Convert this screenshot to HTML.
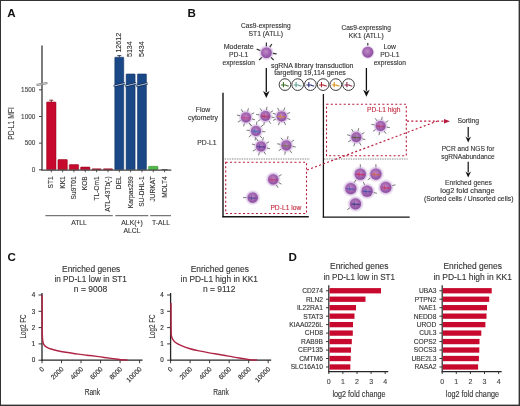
<!DOCTYPE html>
<html><head><meta charset="utf-8"><style>
html,body{margin:0;padding:0;background:#fff;}
svg{display:block;font-family:"Liberation Sans", sans-serif;will-change:transform;}

</style></head><body>
<svg width="520" height="406" viewBox="0 0 520 406">
<rect width="520" height="406" fill="#fff"/>
<text x="7.20" y="17.00" font-size="11.6" fill="#111" text-anchor="start" font-weight="bold">A</text>
<line x1="42.00" y1="45.50" x2="42.00" y2="170.30" stroke="#444" stroke-width="1.4" />
<line x1="39.00" y1="169.80" x2="42.00" y2="169.80" stroke="#444" stroke-width="1" />
<text x="35.30" y="172.10" font-size="6.4" fill="#444" text-anchor="end" stroke="#444" stroke-width="0.12">0</text>
<line x1="39.00" y1="143.15" x2="42.00" y2="143.15" stroke="#444" stroke-width="1" />
<text x="35.30" y="145.45" font-size="6.4" fill="#444" text-anchor="end" stroke="#444" stroke-width="0.12">500</text>
<line x1="39.00" y1="116.50" x2="42.00" y2="116.50" stroke="#444" stroke-width="1" />
<text x="35.30" y="118.80" font-size="6.4" fill="#444" text-anchor="end" stroke="#444" stroke-width="0.12">1000</text>
<line x1="39.00" y1="89.85" x2="42.00" y2="89.85" stroke="#444" stroke-width="1" />
<text x="35.30" y="92.15" font-size="6.4" fill="#444" text-anchor="end" stroke="#444" stroke-width="0.12">1500</text>
<text transform="translate(14.40,123.50) rotate(-90)" font-size="8.4" fill="#444" text-anchor="middle" stroke="#444" stroke-width="0.12" textLength="32.7" lengthAdjust="spacingAndGlyphs">PD-L1 MFI</text>
<rect x="46.60" y="102.00" width="9.40" height="67.80" fill="#c8092e" stroke="#8f0018" stroke-width="0.5" rx="0.6"/>
<line x1="51.30" y1="169.80" x2="51.30" y2="172.30" stroke="#444" stroke-width="0.9" />
<text transform="translate(53.20,176.30) rotate(-90)" font-size="6.6" fill="#333" text-anchor="end" stroke="#333" stroke-width="0.12">ST1</text>
<rect x="57.93" y="159.50" width="9.40" height="10.30" fill="#c8092e" stroke="#8f0018" stroke-width="0.5" rx="0.6"/>
<line x1="62.63" y1="169.80" x2="62.63" y2="172.30" stroke="#444" stroke-width="0.9" />
<text transform="translate(64.53,176.30) rotate(-90)" font-size="6.6" fill="#333" text-anchor="end" stroke="#333" stroke-width="0.12">KK1</text>
<rect x="69.26" y="164.60" width="9.40" height="5.20" fill="#c8092e" stroke="#8f0018" stroke-width="0.5" rx="0.6"/>
<line x1="73.96" y1="169.80" x2="73.96" y2="172.30" stroke="#444" stroke-width="0.9" />
<text transform="translate(75.86,176.30) rotate(-90)" font-size="6.6" fill="#333" text-anchor="end" stroke="#333" stroke-width="0.12">Su9T01</text>
<rect x="80.59" y="167.00" width="9.40" height="2.80" fill="#c8092e" stroke="#8f0018" stroke-width="0.5" rx="0.6"/>
<line x1="85.29" y1="169.80" x2="85.29" y2="172.30" stroke="#444" stroke-width="0.9" />
<text transform="translate(87.19,176.30) rotate(-90)" font-size="6.6" fill="#333" text-anchor="end" stroke="#333" stroke-width="0.12">KOB</text>
<rect x="91.92" y="168.80" width="9.40" height="1.00" fill="#c8092e" stroke="#8f0018" stroke-width="0.5" rx="0.6"/>
<line x1="96.62" y1="169.80" x2="96.62" y2="172.30" stroke="#444" stroke-width="0.9" />
<text transform="translate(98.52,176.30) rotate(-90)" font-size="6.6" fill="#333" text-anchor="end" stroke="#333" stroke-width="0.12">TL-Om1</text>
<rect x="103.25" y="168.80" width="9.40" height="1.00" fill="#c8092e" stroke="#8f0018" stroke-width="0.5" rx="0.6"/>
<line x1="107.95" y1="169.80" x2="107.95" y2="172.30" stroke="#444" stroke-width="0.9" />
<text transform="translate(109.85,176.30) rotate(-90)" font-size="6.6" fill="#333" text-anchor="end" stroke="#333" stroke-width="0.12">ATL-43Tb(-)</text>
<rect x="114.78" y="57.20" width="9.00" height="112.60" fill="#1a4785" stroke="#0f2f5e" stroke-width="0.5" rx="0.6"/>
<line x1="119.28" y1="169.80" x2="119.28" y2="172.30" stroke="#444" stroke-width="0.9" />
<text transform="translate(121.18,176.30) rotate(-90)" font-size="6.6" fill="#333" text-anchor="end" stroke="#333" stroke-width="0.12">DEL</text>
<rect x="126.11" y="73.90" width="9.00" height="95.90" fill="#1a4785" stroke="#0f2f5e" stroke-width="0.5" rx="0.6"/>
<line x1="130.61" y1="169.80" x2="130.61" y2="172.30" stroke="#444" stroke-width="0.9" />
<text transform="translate(132.51,176.30) rotate(-90)" font-size="6.6" fill="#333" text-anchor="end" stroke="#333" stroke-width="0.12">Karpas299</text>
<rect x="137.44" y="73.90" width="9.00" height="95.90" fill="#1a4785" stroke="#0f2f5e" stroke-width="0.5" rx="0.6"/>
<line x1="141.94" y1="169.80" x2="141.94" y2="172.30" stroke="#444" stroke-width="0.9" />
<text transform="translate(143.84,176.30) rotate(-90)" font-size="6.6" fill="#333" text-anchor="end" stroke="#333" stroke-width="0.12">SU-DHL-1</text>
<rect x="148.57" y="166.30" width="9.40" height="3.50" fill="#4fb848" stroke="#2e8a2a" stroke-width="0.5" rx="0.6"/>
<line x1="153.27" y1="169.80" x2="153.27" y2="172.30" stroke="#444" stroke-width="0.9" />
<text transform="translate(155.17,176.30) rotate(-90)" font-size="6.6" fill="#333" text-anchor="end" stroke="#333" stroke-width="0.12">JURKAT</text>
<rect x="161.60" y="169.00" width="6.00" height="0.80" fill="#444" />
<line x1="164.60" y1="169.80" x2="164.60" y2="172.30" stroke="#444" stroke-width="0.9" />
<text transform="translate(166.50,176.30) rotate(-90)" font-size="6.6" fill="#333" text-anchor="end" stroke="#333" stroke-width="0.12">MOLT4</text>
<line x1="41.30" y1="170.10" x2="171.30" y2="170.10" stroke="#444" stroke-width="1.3" />
<line x1="51.30" y1="100.20" x2="51.30" y2="102.00" stroke="#600" stroke-width="0.8" />
<line x1="49.30" y1="100.20" x2="53.30" y2="100.20" stroke="#600" stroke-width="0.8" />
<line x1="119.30" y1="55.60" x2="119.30" y2="57.40" stroke="#0a2040" stroke-width="0.8" />
<line x1="117.30" y1="55.60" x2="121.30" y2="55.60" stroke="#0a2040" stroke-width="0.8" />
<text transform="translate(120.90,52.60) rotate(-90)" font-size="7.0" fill="#333" text-anchor="start" stroke="#333" stroke-width="0.12" textLength="19.8" lengthAdjust="spacingAndGlyphs">12612</text>
<text transform="translate(131.90,57.00) rotate(-90)" font-size="7.0" fill="#333" text-anchor="start" stroke="#333" stroke-width="0.12" textLength="15.6" lengthAdjust="spacingAndGlyphs">5134</text>
<text transform="translate(143.70,57.00) rotate(-90)" font-size="7.0" fill="#333" text-anchor="start" stroke="#333" stroke-width="0.12" textLength="15.6" lengthAdjust="spacingAndGlyphs">5434</text>
<path d="M113.68,86.1 L124.88,83.4" stroke="#0b2850" stroke-width="2.3" fill="none"/>
<path d="M113.68,86.1 L124.88,83.4" stroke="#b8c8dc" stroke-width="1.0" fill="none"/>
<path d="M125.01,86.1 L136.21,83.4" stroke="#0b2850" stroke-width="2.3" fill="none"/>
<path d="M125.01,86.1 L136.21,83.4" stroke="#b8c8dc" stroke-width="1.0" fill="none"/>
<path d="M136.34,86.1 L147.54,83.4" stroke="#0b2850" stroke-width="2.3" fill="none"/>
<path d="M136.34,86.1 L147.54,83.4" stroke="#b8c8dc" stroke-width="1.0" fill="none"/>
<line x1="36.6" y1="85.0" x2="47.4" y2="83.0" stroke="#666" stroke-width="2.2"/>
<line x1="36.6" y1="85.0" x2="47.4" y2="83.0" stroke="#fff" stroke-width="0.7"/>
<line x1="45.40" y1="215.70" x2="112.80" y2="215.70" stroke="#444" stroke-width="0.9" />
<line x1="115.40" y1="215.70" x2="148.30" y2="215.70" stroke="#444" stroke-width="0.9" />
<line x1="150.20" y1="215.70" x2="171.00" y2="215.70" stroke="#444" stroke-width="0.9" />
<text x="79.00" y="225.00" font-size="6.8" fill="#333" text-anchor="middle" stroke="#333" stroke-width="0.12">ATLL</text>
<text x="132.00" y="225.00" font-size="6.8" fill="#333" text-anchor="middle" stroke="#333" stroke-width="0.12">ALK(+)</text>
<text x="132.00" y="232.60" font-size="6.8" fill="#333" text-anchor="middle" stroke="#333" stroke-width="0.12">ALCL</text>
<text x="161.00" y="225.00" font-size="6.8" fill="#333" text-anchor="middle" stroke="#333" stroke-width="0.12">T-ALL</text>
<text x="187.60" y="17.40" font-size="11.6" fill="#111" text-anchor="start" font-weight="bold">B</text>
<text x="265.80" y="28.00" font-size="6.8" fill="#333" text-anchor="middle" stroke="#333" stroke-width="0.12" textLength="49.5" lengthAdjust="spacingAndGlyphs">Cas9-expressing</text>
<text x="265.80" y="36.30" font-size="6.8" fill="#333" text-anchor="middle" stroke="#333" stroke-width="0.12">ST1 (ATLL)</text>
<text x="238.70" y="49.10" font-size="6.8" fill="#333" text-anchor="middle" stroke="#333" stroke-width="0.12" textLength="30" lengthAdjust="spacingAndGlyphs">Moderate</text>
<text x="238.70" y="57.20" font-size="6.8" fill="#333" text-anchor="middle" stroke="#333" stroke-width="0.12">PD-L1</text>
<text x="238.70" y="65.30" font-size="6.8" fill="#333" text-anchor="middle" stroke="#333" stroke-width="0.12" textLength="32.3" lengthAdjust="spacingAndGlyphs">expression</text>
<text x="366.20" y="29.50" font-size="6.8" fill="#333" text-anchor="middle" stroke="#333" stroke-width="0.12" textLength="49.5" lengthAdjust="spacingAndGlyphs">Cas9-expressing</text>
<text x="366.20" y="37.70" font-size="6.8" fill="#333" text-anchor="middle" stroke="#333" stroke-width="0.12">KK1 (ATLL)</text>
<text x="389.80" y="49.10" font-size="6.8" fill="#333" text-anchor="middle" stroke="#333" stroke-width="0.12">Low</text>
<text x="389.80" y="57.20" font-size="6.8" fill="#333" text-anchor="middle" stroke="#333" stroke-width="0.12">PD-L1</text>
<text x="389.80" y="65.30" font-size="6.8" fill="#333" text-anchor="middle" stroke="#333" stroke-width="0.12" textLength="32.3" lengthAdjust="spacingAndGlyphs">expression</text>
<text x="312.20" y="67.80" font-size="6.8" fill="#333" text-anchor="middle" stroke="#333" stroke-width="0.12" textLength="82.5" lengthAdjust="spacingAndGlyphs">sgRNA library transduction</text>
<text x="310.10" y="75.30" font-size="6.8" fill="#333" text-anchor="middle" stroke="#333" stroke-width="0.12" textLength="71.6" lengthAdjust="spacingAndGlyphs">targeting 19,114 genes</text>
<line x1="266.30" y1="68.00" x2="266.30" y2="92.00" stroke="#111" stroke-width="1.3" />
<path d="M263.00,91.00 L266.30,98.00 L269.60,91.00 L266.30,93.00 Z" fill="#111"/>
<line x1="366.40" y1="68.00" x2="366.40" y2="90.80" stroke="#111" stroke-width="1.3" />
<path d="M363.10,89.80 L366.40,96.80 L369.70,89.80 L366.40,91.80 Z" fill="#111"/>
<circle cx="285.00" cy="84.6" r="5.85" fill="#fff" stroke="#3a3a3a" stroke-width="1.0"/>
<path d="M281.00,85.00 L285.60,85.00 Q286.80,86.10 288.80,86.00 M283.40,82.00 L283.40,87.20" stroke="#3f6e25" stroke-width="1.1" fill="none"/>
<circle cx="297.70" cy="84.6" r="5.85" fill="#fff" stroke="#3a3a3a" stroke-width="1.0"/>
<path d="M293.70,85.00 L298.30,85.00 Q299.50,86.10 301.50,86.00 M296.10,82.00 L296.10,87.20" stroke="#5f9f98" stroke-width="1.1" fill="none"/>
<circle cx="310.40" cy="84.6" r="5.85" fill="#fff" stroke="#3a3a3a" stroke-width="1.0"/>
<path d="M306.40,85.00 L311.00,85.00 Q312.20,86.10 314.20,86.00 M308.80,82.00 L308.80,87.20" stroke="#2e2e78" stroke-width="1.1" fill="none"/>
<circle cx="323.10" cy="84.6" r="5.85" fill="#fff" stroke="#3a3a3a" stroke-width="1.0"/>
<path d="M319.10,85.00 L323.70,85.00 Q324.90,86.10 326.90,86.00 M321.50,82.00 L321.50,87.20" stroke="#b0202a" stroke-width="1.1" fill="none"/>
<circle cx="335.80" cy="84.6" r="5.85" fill="#fff" stroke="#3a3a3a" stroke-width="1.0"/>
<path d="M331.80,85.00 L336.40,85.00 Q337.60,86.10 339.60,86.00 M334.20,82.00 L334.20,87.20" stroke="#e0901a" stroke-width="1.1" fill="none"/>
<circle cx="348.50" cy="84.6" r="5.85" fill="#fff" stroke="#3a3a3a" stroke-width="1.0"/>
<path d="M344.50,85.00 L349.10,85.00 Q350.30,86.10 352.30,86.00 M346.90,82.00 L346.90,87.20" stroke="#8a2848" stroke-width="1.1" fill="none"/>
<line x1="223.00" y1="92.80" x2="223.00" y2="217.20" stroke="#151515" stroke-width="1.4" />
<line x1="222.40" y1="216.70" x2="308.80" y2="216.70" stroke="#151515" stroke-width="1.4" />
<line x1="323.40" y1="94.00" x2="323.40" y2="217.60" stroke="#151515" stroke-width="1.3" />
<line x1="322.80" y1="217.10" x2="409.70" y2="217.10" stroke="#151515" stroke-width="1.3" />
<line x1="223.50" y1="159.00" x2="309.30" y2="159.00" stroke="#4a4a4a" stroke-width="0.9" stroke-dasharray="0.75 0.95"/>
<line x1="324.00" y1="159.00" x2="407.80" y2="159.00" stroke="#4a4a4a" stroke-width="0.9" stroke-dasharray="0.75 0.95"/>
<rect x="225.7" y="162.3" width="80.8" height="51.2" fill="none" stroke="#b8183a" stroke-width="1.1" stroke-dasharray="2.0 2.3"/>
<rect x="326.5" y="104.3" width="79.8" height="51.4" fill="none" stroke="#b8183a" stroke-width="1.1" stroke-dasharray="2.0 2.3"/>
<text x="301.30" y="209.90" font-size="6.8" fill="#c42a40" text-anchor="end" stroke="#c42a40" stroke-width="0.12" textLength="30.9" lengthAdjust="spacingAndGlyphs">PD-L1 low</text>
<text x="400.50" y="111.90" font-size="6.8" fill="#c42a40" text-anchor="end" stroke="#c42a40" stroke-width="0.12" textLength="33.5" lengthAdjust="spacingAndGlyphs">PD-L1 high</text>
<line x1="407.00" y1="121.20" x2="445.00" y2="121.20" stroke="#b8183a" stroke-width="1.2" stroke-dasharray="2.0 2.3"/>
<path d="M444.0,118.9 L450.0,121.2 L444.0,123.5 Z" fill="#b8183a"/>
<line x1="307.00" y1="170.00" x2="437.00" y2="121.20" stroke="#b8183a" stroke-width="1.2" stroke-dasharray="2.0 2.3"/>
<text x="203.00" y="112.00" font-size="6.8" fill="#333" text-anchor="middle" stroke="#333" stroke-width="0.12">Flow</text>
<text x="203.00" y="120.20" font-size="6.8" fill="#333" text-anchor="middle" stroke="#333" stroke-width="0.12" textLength="30" lengthAdjust="spacingAndGlyphs">cytometry</text>
<text x="206.90" y="145.00" font-size="6.8" fill="#333" text-anchor="middle" stroke="#333" stroke-width="0.12">PD-L1</text>
<text x="468.20" y="122.80" font-size="6.8" fill="#333" text-anchor="middle" stroke="#333" stroke-width="0.12" textLength="21.6" lengthAdjust="spacingAndGlyphs">Sorting</text>
<line x1="468.20" y1="127.00" x2="468.20" y2="137.50" stroke="#111" stroke-width="1.2" />
<path d="M465.40,136.50 L468.20,142.50 L471.00,136.50 L468.20,138.50 Z" fill="#111"/>
<text x="468.10" y="150.60" font-size="6.8" fill="#333" text-anchor="middle" stroke="#333" stroke-width="0.12" textLength="52.8" lengthAdjust="spacingAndGlyphs">PCR and NGS for</text>
<text x="468.00" y="158.80" font-size="6.8" fill="#333" text-anchor="middle" stroke="#333" stroke-width="0.12" textLength="53.5" lengthAdjust="spacingAndGlyphs">sgRNAabundance</text>
<line x1="468.20" y1="161.80" x2="468.20" y2="172.50" stroke="#111" stroke-width="1.2" />
<path d="M465.40,171.50 L468.20,177.50 L471.00,171.50 L468.20,173.50 Z" fill="#111"/>
<text x="468.40" y="185.10" font-size="6.8" fill="#333" text-anchor="middle" stroke="#333" stroke-width="0.12" textLength="46.8" lengthAdjust="spacingAndGlyphs">Enriched genes</text>
<text x="467.40" y="193.20" font-size="6.8" fill="#333" text-anchor="middle" stroke="#333" stroke-width="0.12" textLength="54.2" lengthAdjust="spacingAndGlyphs">log2 fold change</text>
<text x="468.70" y="201.30" font-size="6.8" fill="#333" text-anchor="middle" stroke="#333" stroke-width="0.12" textLength="89.5" lengthAdjust="spacingAndGlyphs">(Sorted cells / Unsorted cells)</text>
<defs>
<radialGradient id="halo" cx="0.5" cy="0.5" r="0.5">
 <stop offset="0" stop-color="#c49ad2" stop-opacity="1"/>
 <stop offset="0.62" stop-color="#c8a4d8" stop-opacity="0.9"/>
 <stop offset="0.8" stop-color="#dcc6e6" stop-opacity="0.6"/>
 <stop offset="1" stop-color="#f0e8f4" stop-opacity="0"/>
</radialGradient>
<radialGradient id="core" cx="0.45" cy="0.42" r="0.62">
 <stop offset="0" stop-color="#c08ac8"/>
 <stop offset="0.55" stop-color="#a164b0"/>
 <stop offset="1" stop-color="#87489a"/>
</radialGradient>
</defs>
<circle cx="266.40" cy="52.70" r="8.30" fill="url(#halo)"/>
<line x1="266.40" y1="46.20" x2="266.40" y2="42.40" stroke="#333" stroke-width="1.2"/>
<line x1="269.84" y1="47.19" x2="271.86" y2="43.97" stroke="#333" stroke-width="1.2"/>
<line x1="272.86" y1="53.38" x2="276.64" y2="53.78" stroke="#333" stroke-width="1.2"/>
<line x1="271.00" y1="57.30" x2="273.68" y2="59.98" stroke="#333" stroke-width="1.2"/>
<line x1="261.80" y1="57.30" x2="259.12" y2="59.98" stroke="#333" stroke-width="1.2"/>
<line x1="260.29" y1="50.48" x2="256.72" y2="49.18" stroke="#333" stroke-width="1.2"/>
<circle cx="266.40" cy="52.70" r="5.30" fill="url(#core)"/>
<circle cx="367.80" cy="52.20" r="7.50" fill="url(#halo)"/>
<line x1="367.80" y1="45.50" x2="367.80" y2="42.90" stroke="#333" stroke-width="1.2"/>
<circle cx="367.80" cy="52.20" r="5.50" fill="url(#core)"/>
<circle cx="246.00" cy="117.40" r="8.00" fill="url(#halo)"/>
<line x1="247.60" y1="111.41" x2="248.43" y2="108.32" stroke="#555" stroke-width="0.8"/>
<line x1="251.37" y1="114.30" x2="254.14" y2="112.70" stroke="#555" stroke-width="0.8"/>
<line x1="251.99" y1="119.00" x2="255.08" y2="119.83" stroke="#555" stroke-width="0.8"/>
<line x1="249.10" y1="122.77" x2="250.70" y2="125.54" stroke="#555" stroke-width="0.8"/>
<line x1="244.40" y1="123.39" x2="243.57" y2="126.48" stroke="#555" stroke-width="0.8"/>
<line x1="240.63" y1="120.50" x2="237.86" y2="122.10" stroke="#555" stroke-width="0.8"/>
<line x1="240.01" y1="115.80" x2="236.92" y2="114.97" stroke="#555" stroke-width="0.8"/>
<line x1="242.90" y1="112.03" x2="241.30" y2="109.26" stroke="#555" stroke-width="0.8"/>
<circle cx="246.00" cy="117.40" r="5.00" fill="url(#core)"/>
<path d="M242.40,117.50 L249.40,118.00" stroke="#d0407a" stroke-width="1.6" stroke-linecap="round" fill="none" opacity="0.6"/>
<path d="M244.80,115.00 L244.80,119.80" stroke="#d0407a" stroke-width="1.0" fill="none" opacity="0.5"/>
<circle cx="265.40" cy="116.00" r="8.00" fill="url(#halo)"/>
<line x1="266.48" y1="109.89" x2="267.03" y2="106.74" stroke="#555" stroke-width="0.8"/>
<line x1="270.48" y1="112.44" x2="273.10" y2="110.61" stroke="#555" stroke-width="0.8"/>
<line x1="271.51" y1="117.08" x2="274.66" y2="117.63" stroke="#555" stroke-width="0.8"/>
<line x1="268.96" y1="121.08" x2="270.79" y2="123.70" stroke="#555" stroke-width="0.8"/>
<line x1="264.32" y1="122.11" x2="263.77" y2="125.26" stroke="#555" stroke-width="0.8"/>
<line x1="260.32" y1="119.56" x2="257.70" y2="121.39" stroke="#555" stroke-width="0.8"/>
<line x1="259.29" y1="114.92" x2="256.14" y2="114.37" stroke="#555" stroke-width="0.8"/>
<line x1="261.84" y1="110.92" x2="260.01" y2="108.30" stroke="#555" stroke-width="0.8"/>
<circle cx="265.40" cy="116.00" r="5.00" fill="url(#core)"/>
<path d="M261.80,116.10 L268.80,116.60" stroke="#c02050" stroke-width="1.6" stroke-linecap="round" fill="none" opacity="0.6"/>
<path d="M264.20,113.60 L264.20,118.40" stroke="#c02050" stroke-width="1.0" fill="none" opacity="0.5"/>
<circle cx="281.60" cy="116.40" r="8.00" fill="url(#halo)"/>
<line x1="283.72" y1="110.57" x2="284.81" y2="107.57" stroke="#555" stroke-width="0.8"/>
<line x1="287.22" y1="113.78" x2="290.12" y2="112.43" stroke="#555" stroke-width="0.8"/>
<line x1="287.43" y1="118.52" x2="290.43" y2="119.61" stroke="#555" stroke-width="0.8"/>
<line x1="284.22" y1="122.02" x2="285.57" y2="124.92" stroke="#555" stroke-width="0.8"/>
<line x1="279.48" y1="122.23" x2="278.39" y2="125.23" stroke="#555" stroke-width="0.8"/>
<line x1="275.98" y1="119.02" x2="273.08" y2="120.37" stroke="#555" stroke-width="0.8"/>
<line x1="275.77" y1="114.28" x2="272.77" y2="113.19" stroke="#555" stroke-width="0.8"/>
<line x1="278.98" y1="110.78" x2="277.63" y2="107.88" stroke="#555" stroke-width="0.8"/>
<circle cx="281.60" cy="116.40" r="5.00" fill="url(#core)"/>
<path d="M278.00,116.50 L285.00,117.00" stroke="#e09020" stroke-width="1.6" stroke-linecap="round" fill="none" opacity="0.6"/>
<path d="M280.40,114.00 L280.40,118.80" stroke="#e09020" stroke-width="1.0" fill="none" opacity="0.5"/>
<circle cx="256.00" cy="131.00" r="8.00" fill="url(#halo)"/>
<line x1="256.54" y1="124.82" x2="256.82" y2="121.64" stroke="#555" stroke-width="0.8"/>
<line x1="260.75" y1="127.01" x2="263.20" y2="124.96" stroke="#555" stroke-width="0.8"/>
<line x1="262.18" y1="131.54" x2="265.36" y2="131.82" stroke="#555" stroke-width="0.8"/>
<line x1="259.99" y1="135.75" x2="262.04" y2="138.20" stroke="#555" stroke-width="0.8"/>
<line x1="255.46" y1="137.18" x2="255.18" y2="140.36" stroke="#555" stroke-width="0.8"/>
<line x1="251.25" y1="134.99" x2="248.80" y2="137.04" stroke="#555" stroke-width="0.8"/>
<line x1="249.82" y1="130.46" x2="246.64" y2="130.18" stroke="#555" stroke-width="0.8"/>
<line x1="252.01" y1="126.25" x2="249.96" y2="123.80" stroke="#555" stroke-width="0.8"/>
<circle cx="256.00" cy="131.00" r="5.00" fill="url(#core)"/>
<path d="M252.40,131.10 L259.40,131.60" stroke="#3070c0" stroke-width="1.6" stroke-linecap="round" fill="none" opacity="0.6"/>
<path d="M254.80,128.60 L254.80,133.40" stroke="#3070c0" stroke-width="1.0" fill="none" opacity="0.5"/>
<circle cx="261.00" cy="146.40" r="8.00" fill="url(#halo)"/>
<line x1="262.60" y1="140.41" x2="263.43" y2="137.32" stroke="#555" stroke-width="0.8"/>
<line x1="266.37" y1="143.30" x2="269.14" y2="141.70" stroke="#555" stroke-width="0.8"/>
<line x1="266.99" y1="148.00" x2="270.08" y2="148.83" stroke="#555" stroke-width="0.8"/>
<line x1="264.10" y1="151.77" x2="265.70" y2="154.54" stroke="#555" stroke-width="0.8"/>
<line x1="259.40" y1="152.39" x2="258.57" y2="155.48" stroke="#555" stroke-width="0.8"/>
<line x1="255.63" y1="149.50" x2="252.86" y2="151.10" stroke="#555" stroke-width="0.8"/>
<line x1="255.01" y1="144.80" x2="251.92" y2="143.97" stroke="#555" stroke-width="0.8"/>
<line x1="257.90" y1="141.03" x2="256.30" y2="138.26" stroke="#555" stroke-width="0.8"/>
<circle cx="261.00" cy="146.40" r="5.00" fill="url(#core)"/>
<path d="M257.40,146.50 L264.40,147.00" stroke="#303090" stroke-width="1.6" stroke-linecap="round" fill="none" opacity="0.6"/>
<path d="M259.80,144.00 L259.80,148.80" stroke="#303090" stroke-width="1.0" fill="none" opacity="0.5"/>
<circle cx="286.40" cy="145.40" r="8.00" fill="url(#halo)"/>
<line x1="287.48" y1="139.29" x2="288.03" y2="136.14" stroke="#555" stroke-width="0.8"/>
<line x1="291.48" y1="141.84" x2="294.10" y2="140.01" stroke="#555" stroke-width="0.8"/>
<line x1="292.51" y1="146.48" x2="295.66" y2="147.03" stroke="#555" stroke-width="0.8"/>
<line x1="289.96" y1="150.48" x2="291.79" y2="153.10" stroke="#555" stroke-width="0.8"/>
<line x1="285.32" y1="151.51" x2="284.77" y2="154.66" stroke="#555" stroke-width="0.8"/>
<line x1="281.32" y1="148.96" x2="278.70" y2="150.79" stroke="#555" stroke-width="0.8"/>
<line x1="280.29" y1="144.32" x2="277.14" y2="143.77" stroke="#555" stroke-width="0.8"/>
<line x1="282.84" y1="140.32" x2="281.01" y2="137.70" stroke="#555" stroke-width="0.8"/>
<circle cx="286.40" cy="145.40" r="5.00" fill="url(#core)"/>
<path d="M282.80,145.50 L289.80,146.00" stroke="#707040" stroke-width="1.6" stroke-linecap="round" fill="none" opacity="0.6"/>
<path d="M285.20,143.00 L285.20,147.80" stroke="#707040" stroke-width="1.0" fill="none" opacity="0.5"/>
<circle cx="273.20" cy="179.40" r="8.20" fill="url(#halo)"/>
<line x1="278.74" y1="176.20" x2="281.51" y2="174.60" stroke="#555" stroke-width="0.8"/>
<line x1="278.74" y1="182.60" x2="281.51" y2="184.20" stroke="#555" stroke-width="0.8"/>
<line x1="276.40" y1="184.94" x2="278.00" y2="187.71" stroke="#555" stroke-width="0.8"/>
<circle cx="273.20" cy="179.40" r="5.20" fill="url(#core)"/>
<path d="M269.60,179.50 L276.60,180.00" stroke="#c03060" stroke-width="1.6" stroke-linecap="round" fill="none" opacity="0.6"/>
<path d="M272.00,177.00 L272.00,181.80" stroke="#c03060" stroke-width="1.0" fill="none" opacity="0.5"/>
<circle cx="252.70" cy="197.60" r="8.20" fill="url(#halo)"/>
<line x1="246.30" y1="197.60" x2="243.10" y2="197.60" stroke="#555" stroke-width="0.8"/>
<circle cx="252.70" cy="197.60" r="5.20" fill="url(#core)"/>
<path d="M249.10,197.70 L256.10,198.20" stroke="#404090" stroke-width="1.6" stroke-linecap="round" fill="none" opacity="0.6"/>
<path d="M251.50,195.20 L251.50,200.00" stroke="#404090" stroke-width="1.0" fill="none" opacity="0.5"/>
<circle cx="356.30" cy="137.20" r="8.00" fill="url(#halo)"/>
<line x1="357.90" y1="131.21" x2="358.73" y2="128.12" stroke="#555" stroke-width="0.8"/>
<line x1="361.67" y1="134.10" x2="364.44" y2="132.50" stroke="#555" stroke-width="0.8"/>
<line x1="362.29" y1="138.80" x2="365.38" y2="139.63" stroke="#555" stroke-width="0.8"/>
<line x1="359.40" y1="142.57" x2="361.00" y2="145.34" stroke="#555" stroke-width="0.8"/>
<line x1="354.70" y1="143.19" x2="353.87" y2="146.28" stroke="#555" stroke-width="0.8"/>
<line x1="350.93" y1="140.30" x2="348.16" y2="141.90" stroke="#555" stroke-width="0.8"/>
<line x1="350.31" y1="135.60" x2="347.22" y2="134.77" stroke="#555" stroke-width="0.8"/>
<line x1="353.20" y1="131.83" x2="351.60" y2="129.06" stroke="#555" stroke-width="0.8"/>
<circle cx="356.30" cy="137.20" r="5.00" fill="url(#core)"/>
<path d="M352.70,137.30 L359.70,137.80" stroke="#405030" stroke-width="1.6" stroke-linecap="round" fill="none" opacity="0.6"/>
<path d="M355.10,134.80 L355.10,139.60" stroke="#405030" stroke-width="1.0" fill="none" opacity="0.5"/>
<circle cx="380.60" cy="126.00" r="8.00" fill="url(#halo)"/>
<line x1="381.68" y1="119.89" x2="382.23" y2="116.74" stroke="#555" stroke-width="0.8"/>
<line x1="385.68" y1="122.44" x2="388.30" y2="120.61" stroke="#555" stroke-width="0.8"/>
<line x1="386.71" y1="127.08" x2="389.86" y2="127.63" stroke="#555" stroke-width="0.8"/>
<line x1="384.16" y1="131.08" x2="385.99" y2="133.70" stroke="#555" stroke-width="0.8"/>
<line x1="379.52" y1="132.11" x2="378.97" y2="135.26" stroke="#555" stroke-width="0.8"/>
<line x1="375.52" y1="129.56" x2="372.90" y2="131.39" stroke="#555" stroke-width="0.8"/>
<line x1="374.49" y1="124.92" x2="371.34" y2="124.37" stroke="#555" stroke-width="0.8"/>
<line x1="377.04" y1="120.92" x2="375.21" y2="118.30" stroke="#555" stroke-width="0.8"/>
<circle cx="380.60" cy="126.00" r="5.00" fill="url(#core)"/>
<path d="M377.00,126.10 L384.00,126.60" stroke="#b03060" stroke-width="1.6" stroke-linecap="round" fill="none" opacity="0.6"/>
<path d="M379.40,123.60 L379.40,128.40" stroke="#b03060" stroke-width="1.0" fill="none" opacity="0.5"/>
<circle cx="360.30" cy="174.20" r="8.80" fill="url(#halo)"/>
<line x1="360.30" y1="167.40" x2="360.30" y2="164.20" stroke="#555" stroke-width="0.8"/>
<circle cx="360.30" cy="174.20" r="5.60" fill="url(#core)"/>
<path d="M356.70,174.30 L363.70,174.80" stroke="#d01840" stroke-width="1.6" stroke-linecap="round" fill="none" opacity="0.6"/>
<path d="M359.10,171.80 L359.10,176.60" stroke="#d01840" stroke-width="1.0" fill="none" opacity="0.5"/>
<circle cx="375.90" cy="174.10" r="8.80" fill="url(#halo)"/>
<line x1="375.90" y1="167.30" x2="375.90" y2="164.10" stroke="#555" stroke-width="0.8"/>
<line x1="370.33" y1="178.00" x2="367.71" y2="179.84" stroke="#555" stroke-width="0.8"/>
<circle cx="375.90" cy="174.10" r="5.60" fill="url(#core)"/>
<path d="M372.30,174.20 L379.30,174.70" stroke="#e06030" stroke-width="1.6" stroke-linecap="round" fill="none" opacity="0.6"/>
<path d="M374.70,171.70 L374.70,176.50" stroke="#e06030" stroke-width="1.0" fill="none" opacity="0.5"/>
<circle cx="350.80" cy="188.60" r="8.80" fill="url(#halo)"/>
<line x1="354.20" y1="182.71" x2="355.80" y2="179.94" stroke="#555" stroke-width="0.8"/>
<circle cx="350.80" cy="188.60" r="5.60" fill="url(#core)"/>
<path d="M347.20,188.70 L354.20,189.20" stroke="#3a50b0" stroke-width="1.6" stroke-linecap="round" fill="none" opacity="0.6"/>
<path d="M349.60,186.20 L349.60,191.00" stroke="#3a50b0" stroke-width="1.0" fill="none" opacity="0.5"/>
<circle cx="367.10" cy="191.20" r="8.80" fill="url(#halo)"/>
<line x1="364.55" y1="184.90" x2="363.35" y2="181.93" stroke="#555" stroke-width="0.8"/>
<line x1="373.75" y1="192.61" x2="376.88" y2="193.28" stroke="#555" stroke-width="0.8"/>
<circle cx="367.10" cy="191.20" r="5.60" fill="url(#core)"/>
<path d="M363.50,191.30 L370.50,191.80" stroke="#2840a0" stroke-width="1.6" stroke-linecap="round" fill="none" opacity="0.6"/>
<path d="M365.90,188.80 L365.90,193.60" stroke="#2840a0" stroke-width="1.0" fill="none" opacity="0.5"/>
<circle cx="385.80" cy="187.40" r="8.80" fill="url(#halo)"/>
<line x1="392.37" y1="185.64" x2="395.46" y2="184.81" stroke="#555" stroke-width="0.8"/>
<circle cx="385.80" cy="187.40" r="5.60" fill="url(#core)"/>
<path d="M382.20,187.50 L389.20,188.00" stroke="#d02850" stroke-width="1.6" stroke-linecap="round" fill="none" opacity="0.6"/>
<path d="M384.60,185.00 L384.60,189.80" stroke="#d02850" stroke-width="1.0" fill="none" opacity="0.5"/>
<circle cx="355.50" cy="203.90" r="8.80" fill="url(#halo)"/>
<line x1="349.93" y1="207.80" x2="347.31" y2="209.64" stroke="#555" stroke-width="0.8"/>
<circle cx="355.50" cy="203.90" r="5.60" fill="url(#core)"/>
<path d="M351.90,204.00 L358.90,204.50" stroke="#202870" stroke-width="1.6" stroke-linecap="round" fill="none" opacity="0.6"/>
<path d="M354.30,201.50 L354.30,206.30" stroke="#202870" stroke-width="1.0" fill="none" opacity="0.5"/>
<text x="7.40" y="260.80" font-size="11.6" fill="#111" text-anchor="start" font-weight="bold">C</text>
<text x="91.20" y="272.10" font-size="8.3" fill="#333" text-anchor="middle" stroke="#333" stroke-width="0.12" textLength="58.2" lengthAdjust="spacingAndGlyphs">Enriched genes</text>
<text x="90.70" y="282.30" font-size="8.3" fill="#333" text-anchor="middle" stroke="#333" stroke-width="0.12" textLength="72.5" lengthAdjust="spacingAndGlyphs">in PD-L1 low in ST1</text>
<text x="90.60" y="292.40" font-size="8.3" fill="#333" text-anchor="middle" stroke="#333" stroke-width="0.12" textLength="33.5" lengthAdjust="spacingAndGlyphs">n = 9008</text>
<line x1="42.00" y1="293.00" x2="42.00" y2="360.80" stroke="#262626" stroke-width="1.3" />
<line x1="38.50" y1="360.20" x2="42.00" y2="360.20" stroke="#262626" stroke-width="0.9" />
<text x="35.20" y="362.40" font-size="6.3" fill="#2a2a2a" text-anchor="end" stroke="#2a2a2a" stroke-width="0.12">0</text>
<line x1="38.50" y1="343.90" x2="42.00" y2="343.90" stroke="#262626" stroke-width="0.9" />
<text x="35.20" y="346.10" font-size="6.3" fill="#2a2a2a" text-anchor="end" stroke="#2a2a2a" stroke-width="0.12">1</text>
<line x1="38.50" y1="327.60" x2="42.00" y2="327.60" stroke="#262626" stroke-width="0.9" />
<text x="35.20" y="329.80" font-size="6.3" fill="#2a2a2a" text-anchor="end" stroke="#2a2a2a" stroke-width="0.12">2</text>
<line x1="38.50" y1="311.30" x2="42.00" y2="311.30" stroke="#262626" stroke-width="0.9" />
<text x="35.20" y="313.50" font-size="6.3" fill="#2a2a2a" text-anchor="end" stroke="#2a2a2a" stroke-width="0.12">3</text>
<line x1="38.50" y1="295.00" x2="42.00" y2="295.00" stroke="#262626" stroke-width="0.9" />
<text x="35.20" y="297.20" font-size="6.3" fill="#2a2a2a" text-anchor="end" stroke="#2a2a2a" stroke-width="0.12">4</text>
<line x1="41.40" y1="360.20" x2="142.60" y2="360.20" stroke="#262626" stroke-width="1.3" />
<line x1="42.00" y1="360.20" x2="42.00" y2="363.20" stroke="#262626" stroke-width="0.9" />
<text transform="translate(44.60,369.50) rotate(-45)" font-size="6.7" fill="#2a2a2a" text-anchor="end" stroke="#2a2a2a" stroke-width="0.12">0</text>
<line x1="61.52" y1="360.20" x2="61.52" y2="363.20" stroke="#262626" stroke-width="0.9" />
<text transform="translate(64.12,369.50) rotate(-45)" font-size="6.7" fill="#2a2a2a" text-anchor="end" stroke="#2a2a2a" stroke-width="0.12">2000</text>
<line x1="81.04" y1="360.20" x2="81.04" y2="363.20" stroke="#262626" stroke-width="0.9" />
<text transform="translate(83.64,369.50) rotate(-45)" font-size="6.7" fill="#2a2a2a" text-anchor="end" stroke="#2a2a2a" stroke-width="0.12">4000</text>
<line x1="100.56" y1="360.20" x2="100.56" y2="363.20" stroke="#262626" stroke-width="0.9" />
<text transform="translate(103.16,369.50) rotate(-45)" font-size="6.7" fill="#2a2a2a" text-anchor="end" stroke="#2a2a2a" stroke-width="0.12">6000</text>
<line x1="120.08" y1="360.20" x2="120.08" y2="363.20" stroke="#262626" stroke-width="0.9" />
<text transform="translate(122.68,369.50) rotate(-45)" font-size="6.7" fill="#2a2a2a" text-anchor="end" stroke="#2a2a2a" stroke-width="0.12">8000</text>
<line x1="139.60" y1="360.20" x2="139.60" y2="363.20" stroke="#262626" stroke-width="0.9" />
<text transform="translate(142.20,369.50) rotate(-45)" font-size="6.7" fill="#2a2a2a" text-anchor="end" stroke="#2a2a2a" stroke-width="0.12">10000</text>
<text x="92.40" y="394.90" font-size="8.7" fill="#333" text-anchor="middle" stroke="#333" stroke-width="0.12" textLength="15.4" lengthAdjust="spacingAndGlyphs">Rank</text>
<text transform="translate(26.20,326.40) rotate(-90)" font-size="8.3" fill="#333" text-anchor="middle" stroke="#333" stroke-width="0.12" textLength="24" lengthAdjust="spacingAndGlyphs">Log2 FC</text>
<path d="M42.10,295.00 C42.11,299.17 42.12,313.58 42.15,320.00 C42.18,326.42 42.22,330.25 42.30,333.50 C42.38,336.75 42.45,337.92 42.60,339.50 C42.75,341.08 42.88,342.00 43.20,343.00 C43.52,344.00 43.87,344.78 44.50,345.50 C45.13,346.22 45.92,346.72 47.00,347.30 C48.08,347.88 49.42,348.47 51.00,349.00 C52.58,349.53 54.05,349.95 56.50,350.50 C58.95,351.05 62.62,351.77 65.70,352.30 C68.78,352.83 71.92,353.27 75.00,353.70 C78.08,354.13 81.70,354.60 84.20,354.90 C86.70,355.20 87.27,355.17 90.00,355.50 C92.73,355.83 97.07,356.42 100.60,356.90 C104.13,357.38 108.30,358.00 111.20,358.40 C114.10,358.80 116.37,359.07 118.00,359.30 C119.63,359.53 119.40,359.67 121.00,359.80 C122.60,359.93 126.50,360.05 127.60,360.10" fill="none" stroke="#b02446" stroke-width="1.45" stroke-linejoin="round"/>
<text x="219.80" y="272.10" font-size="8.3" fill="#333" text-anchor="middle" stroke="#333" stroke-width="0.12" textLength="58.2" lengthAdjust="spacingAndGlyphs">Enriched genes</text>
<text x="219.30" y="282.30" font-size="8.3" fill="#333" text-anchor="middle" stroke="#333" stroke-width="0.12" textLength="77.4" lengthAdjust="spacingAndGlyphs">in PD-L1 high in KK1</text>
<text x="219.20" y="292.40" font-size="8.3" fill="#333" text-anchor="middle" stroke="#333" stroke-width="0.12" textLength="32.5" lengthAdjust="spacingAndGlyphs">n = 9112</text>
<line x1="170.60" y1="293.00" x2="170.60" y2="360.80" stroke="#262626" stroke-width="1.3" />
<line x1="167.10" y1="360.20" x2="170.60" y2="360.20" stroke="#262626" stroke-width="0.9" />
<text x="163.80" y="362.40" font-size="6.3" fill="#2a2a2a" text-anchor="end" stroke="#2a2a2a" stroke-width="0.12">0</text>
<line x1="167.10" y1="343.90" x2="170.60" y2="343.90" stroke="#262626" stroke-width="0.9" />
<text x="163.80" y="346.10" font-size="6.3" fill="#2a2a2a" text-anchor="end" stroke="#2a2a2a" stroke-width="0.12">1</text>
<line x1="167.10" y1="327.60" x2="170.60" y2="327.60" stroke="#262626" stroke-width="0.9" />
<text x="163.80" y="329.80" font-size="6.3" fill="#2a2a2a" text-anchor="end" stroke="#2a2a2a" stroke-width="0.12">2</text>
<line x1="167.10" y1="311.30" x2="170.60" y2="311.30" stroke="#262626" stroke-width="0.9" />
<text x="163.80" y="313.50" font-size="6.3" fill="#2a2a2a" text-anchor="end" stroke="#2a2a2a" stroke-width="0.12">3</text>
<line x1="167.10" y1="295.00" x2="170.60" y2="295.00" stroke="#262626" stroke-width="0.9" />
<text x="163.80" y="297.20" font-size="6.3" fill="#2a2a2a" text-anchor="end" stroke="#2a2a2a" stroke-width="0.12">4</text>
<line x1="170.00" y1="360.20" x2="271.20" y2="360.20" stroke="#262626" stroke-width="1.3" />
<line x1="170.60" y1="360.20" x2="170.60" y2="363.20" stroke="#262626" stroke-width="0.9" />
<text transform="translate(173.20,369.50) rotate(-45)" font-size="6.7" fill="#2a2a2a" text-anchor="end" stroke="#2a2a2a" stroke-width="0.12">0</text>
<line x1="190.12" y1="360.20" x2="190.12" y2="363.20" stroke="#262626" stroke-width="0.9" />
<text transform="translate(192.72,369.50) rotate(-45)" font-size="6.7" fill="#2a2a2a" text-anchor="end" stroke="#2a2a2a" stroke-width="0.12">2000</text>
<line x1="209.64" y1="360.20" x2="209.64" y2="363.20" stroke="#262626" stroke-width="0.9" />
<text transform="translate(212.24,369.50) rotate(-45)" font-size="6.7" fill="#2a2a2a" text-anchor="end" stroke="#2a2a2a" stroke-width="0.12">4000</text>
<line x1="229.16" y1="360.20" x2="229.16" y2="363.20" stroke="#262626" stroke-width="0.9" />
<text transform="translate(231.76,369.50) rotate(-45)" font-size="6.7" fill="#2a2a2a" text-anchor="end" stroke="#2a2a2a" stroke-width="0.12">6000</text>
<line x1="248.68" y1="360.20" x2="248.68" y2="363.20" stroke="#262626" stroke-width="0.9" />
<text transform="translate(251.28,369.50) rotate(-45)" font-size="6.7" fill="#2a2a2a" text-anchor="end" stroke="#2a2a2a" stroke-width="0.12">8000</text>
<line x1="268.20" y1="360.20" x2="268.20" y2="363.20" stroke="#262626" stroke-width="0.9" />
<text transform="translate(270.80,369.50) rotate(-45)" font-size="6.7" fill="#2a2a2a" text-anchor="end" stroke="#2a2a2a" stroke-width="0.12">10000</text>
<text x="221.00" y="394.90" font-size="8.7" fill="#333" text-anchor="middle" stroke="#333" stroke-width="0.12" textLength="15.4" lengthAdjust="spacingAndGlyphs">Rank</text>
<text transform="translate(154.80,326.40) rotate(-90)" font-size="8.3" fill="#333" text-anchor="middle" stroke="#333" stroke-width="0.12" textLength="24" lengthAdjust="spacingAndGlyphs">Log2 FC</text>
<path d="M171.00,303.00 C171.01,305.83 171.02,314.93 171.05,320.00 C171.08,325.07 171.11,330.65 171.20,333.40 C171.29,336.15 171.38,335.58 171.60,336.50 C171.82,337.42 171.90,337.95 172.50,338.90 C173.10,339.85 173.82,341.12 175.20,342.20 C176.58,343.28 178.33,344.32 180.80,345.40 C183.27,346.48 186.93,347.78 190.00,348.70 C193.07,349.62 195.82,350.17 199.20,350.90 C202.58,351.63 207.17,352.53 210.30,353.10 C213.43,353.67 214.95,353.80 218.00,354.30 C221.05,354.80 225.07,355.48 228.60,356.10 C232.13,356.72 235.68,357.42 239.20,358.00 C242.72,358.58 247.40,359.27 249.70,359.60 C252.00,359.93 251.75,359.92 253.00,360.00 C254.25,360.08 256.50,360.08 257.20,360.10" fill="none" stroke="#b02446" stroke-width="1.45" stroke-linejoin="round"/>
<text x="288.60" y="260.80" font-size="11.6" fill="#111" text-anchor="start" font-weight="bold">D</text>
<text x="359.30" y="269.20" font-size="8.3" fill="#333" text-anchor="middle" stroke="#333" stroke-width="0.12" textLength="58.4" lengthAdjust="spacingAndGlyphs">Enriched genes</text>
<text x="359.30" y="279.50" font-size="8.3" fill="#333" text-anchor="middle" stroke="#333" stroke-width="0.12" textLength="71.5" lengthAdjust="spacingAndGlyphs">in PD-L1 low in ST1</text>
<line x1="328.80" y1="285.30" x2="328.80" y2="372.20" stroke="#262626" stroke-width="1.2" />
<line x1="328.30" y1="371.70" x2="388.30" y2="371.70" stroke="#262626" stroke-width="1.2" />
<line x1="328.80" y1="371.70" x2="328.80" y2="374.00" stroke="#262626" stroke-width="0.9" />
<text x="328.80" y="383.80" font-size="7.0" fill="#444" text-anchor="middle" stroke="#444" stroke-width="0.12">0</text>
<line x1="342.90" y1="371.70" x2="342.90" y2="374.00" stroke="#262626" stroke-width="0.9" />
<text x="342.90" y="383.80" font-size="7.0" fill="#444" text-anchor="middle" stroke="#444" stroke-width="0.12">1</text>
<line x1="357.00" y1="371.70" x2="357.00" y2="374.00" stroke="#262626" stroke-width="0.9" />
<text x="357.00" y="383.80" font-size="7.0" fill="#444" text-anchor="middle" stroke="#444" stroke-width="0.12">2</text>
<line x1="371.10" y1="371.70" x2="371.10" y2="374.00" stroke="#262626" stroke-width="0.9" />
<text x="371.10" y="383.80" font-size="7.0" fill="#444" text-anchor="middle" stroke="#444" stroke-width="0.12">3</text>
<line x1="385.20" y1="371.70" x2="385.20" y2="374.00" stroke="#262626" stroke-width="0.9" />
<text x="385.20" y="383.80" font-size="7.0" fill="#444" text-anchor="middle" stroke="#444" stroke-width="0.12">4</text>
<rect x="329.50" y="288.10" width="51.50" height="5.30" fill="#c8092e" />
<line x1="326.00" y1="290.75" x2="328.80" y2="290.75" stroke="#262626" stroke-width="0.9" />
<text x="323.00" y="293.10" font-size="6.7" fill="#333" text-anchor="end" stroke="#333" stroke-width="0.12">CD274</text>
<rect x="329.50" y="296.57" width="36.00" height="5.30" fill="#c8092e" />
<line x1="326.00" y1="299.22" x2="328.80" y2="299.22" stroke="#262626" stroke-width="0.9" />
<text x="323.00" y="301.57" font-size="6.7" fill="#333" text-anchor="end" stroke="#333" stroke-width="0.12">RLN2</text>
<rect x="329.50" y="305.04" width="26.50" height="5.30" fill="#c8092e" />
<line x1="326.00" y1="307.69" x2="328.80" y2="307.69" stroke="#262626" stroke-width="0.9" />
<text x="323.00" y="310.04" font-size="6.7" fill="#333" text-anchor="end" stroke="#333" stroke-width="0.12">IL22RA1</text>
<rect x="329.50" y="313.51" width="25.00" height="5.30" fill="#c8092e" />
<line x1="326.00" y1="316.16" x2="328.80" y2="316.16" stroke="#262626" stroke-width="0.9" />
<text x="323.00" y="318.51" font-size="6.7" fill="#333" text-anchor="end" stroke="#333" stroke-width="0.12">STAT3</text>
<rect x="329.50" y="321.98" width="23.50" height="5.30" fill="#c8092e" />
<line x1="326.00" y1="324.63" x2="328.80" y2="324.63" stroke="#262626" stroke-width="0.9" />
<text x="323.00" y="326.98" font-size="6.7" fill="#333" text-anchor="end" stroke="#333" stroke-width="0.12">KIAA0226L</text>
<rect x="329.50" y="330.45" width="23.30" height="5.30" fill="#c8092e" />
<line x1="326.00" y1="333.10" x2="328.80" y2="333.10" stroke="#262626" stroke-width="0.9" />
<text x="323.00" y="335.45" font-size="6.7" fill="#333" text-anchor="end" stroke="#333" stroke-width="0.12">CHD8</text>
<rect x="329.50" y="338.92" width="22.30" height="5.30" fill="#c8092e" />
<line x1="326.00" y1="341.57" x2="328.80" y2="341.57" stroke="#262626" stroke-width="0.9" />
<text x="323.00" y="343.92" font-size="6.7" fill="#333" text-anchor="end" stroke="#333" stroke-width="0.12">RAB9B</text>
<rect x="329.50" y="347.39" width="21.50" height="5.30" fill="#c8092e" />
<line x1="326.00" y1="350.04" x2="328.80" y2="350.04" stroke="#262626" stroke-width="0.9" />
<text x="323.00" y="352.39" font-size="6.7" fill="#333" text-anchor="end" stroke="#333" stroke-width="0.12">CEP135</text>
<rect x="329.50" y="355.86" width="21.20" height="5.30" fill="#c8092e" />
<line x1="326.00" y1="358.51" x2="328.80" y2="358.51" stroke="#262626" stroke-width="0.9" />
<text x="323.00" y="360.86" font-size="6.7" fill="#333" text-anchor="end" stroke="#333" stroke-width="0.12">CMTM6</text>
<rect x="329.50" y="364.33" width="20.80" height="5.30" fill="#c8092e" />
<line x1="326.00" y1="366.98" x2="328.80" y2="366.98" stroke="#262626" stroke-width="0.9" />
<text x="323.00" y="369.33" font-size="6.7" fill="#333" text-anchor="end" stroke="#333" stroke-width="0.12">SLC16A10</text>
<text x="359.00" y="396.80" font-size="9.2" fill="#333" text-anchor="middle" stroke="#333" stroke-width="0.12" textLength="53.2" lengthAdjust="spacingAndGlyphs">log2 fold change</text>
<text x="472.70" y="269.20" font-size="8.3" fill="#333" text-anchor="middle" stroke="#333" stroke-width="0.12" textLength="58.4" lengthAdjust="spacingAndGlyphs">Enriched genes</text>
<text x="472.70" y="279.50" font-size="8.3" fill="#333" text-anchor="middle" stroke="#333" stroke-width="0.12" textLength="78.5" lengthAdjust="spacingAndGlyphs">in PD-L1 high in KK1</text>
<line x1="442.20" y1="285.30" x2="442.20" y2="372.20" stroke="#262626" stroke-width="1.2" />
<line x1="441.70" y1="371.70" x2="501.70" y2="371.70" stroke="#262626" stroke-width="1.2" />
<line x1="442.20" y1="371.70" x2="442.20" y2="374.00" stroke="#262626" stroke-width="0.9" />
<text x="442.20" y="383.80" font-size="7.0" fill="#444" text-anchor="middle" stroke="#444" stroke-width="0.12">0</text>
<line x1="456.30" y1="371.70" x2="456.30" y2="374.00" stroke="#262626" stroke-width="0.9" />
<text x="456.30" y="383.80" font-size="7.0" fill="#444" text-anchor="middle" stroke="#444" stroke-width="0.12">1</text>
<line x1="470.40" y1="371.70" x2="470.40" y2="374.00" stroke="#262626" stroke-width="0.9" />
<text x="470.40" y="383.80" font-size="7.0" fill="#444" text-anchor="middle" stroke="#444" stroke-width="0.12">2</text>
<line x1="484.50" y1="371.70" x2="484.50" y2="374.00" stroke="#262626" stroke-width="0.9" />
<text x="484.50" y="383.80" font-size="7.0" fill="#444" text-anchor="middle" stroke="#444" stroke-width="0.12">3</text>
<line x1="498.60" y1="371.70" x2="498.60" y2="374.00" stroke="#262626" stroke-width="0.9" />
<text x="498.60" y="383.80" font-size="7.0" fill="#444" text-anchor="middle" stroke="#444" stroke-width="0.12">4</text>
<rect x="442.90" y="288.10" width="48.80" height="5.30" fill="#c8092e" />
<line x1="439.40" y1="290.75" x2="442.20" y2="290.75" stroke="#262626" stroke-width="0.9" />
<text x="436.40" y="293.10" font-size="6.7" fill="#333" text-anchor="end" stroke="#333" stroke-width="0.12">UBA3</text>
<rect x="442.90" y="296.57" width="46.30" height="5.30" fill="#c8092e" />
<line x1="439.40" y1="299.22" x2="442.20" y2="299.22" stroke="#262626" stroke-width="0.9" />
<text x="436.40" y="301.57" font-size="6.7" fill="#333" text-anchor="end" stroke="#333" stroke-width="0.12">PTPN2</text>
<rect x="442.90" y="305.04" width="44.10" height="5.30" fill="#c8092e" />
<line x1="439.40" y1="307.69" x2="442.20" y2="307.69" stroke="#262626" stroke-width="0.9" />
<text x="436.40" y="310.04" font-size="6.7" fill="#333" text-anchor="end" stroke="#333" stroke-width="0.12">NAE1</text>
<rect x="442.90" y="313.51" width="43.60" height="5.30" fill="#c8092e" />
<line x1="439.40" y1="316.16" x2="442.20" y2="316.16" stroke="#262626" stroke-width="0.9" />
<text x="436.40" y="318.51" font-size="6.7" fill="#333" text-anchor="end" stroke="#333" stroke-width="0.12">NEDD8</text>
<rect x="442.90" y="321.98" width="42.50" height="5.30" fill="#c8092e" />
<line x1="439.40" y1="324.63" x2="442.20" y2="324.63" stroke="#262626" stroke-width="0.9" />
<text x="436.40" y="326.98" font-size="6.7" fill="#333" text-anchor="end" stroke="#333" stroke-width="0.12">UROD</text>
<rect x="442.90" y="330.45" width="38.40" height="5.30" fill="#c8092e" />
<line x1="439.40" y1="333.10" x2="442.20" y2="333.10" stroke="#262626" stroke-width="0.9" />
<text x="436.40" y="335.45" font-size="6.7" fill="#333" text-anchor="end" stroke="#333" stroke-width="0.12">CUL3</text>
<rect x="442.90" y="338.92" width="36.60" height="5.30" fill="#c8092e" />
<line x1="439.40" y1="341.57" x2="442.20" y2="341.57" stroke="#262626" stroke-width="0.9" />
<text x="436.40" y="343.92" font-size="6.7" fill="#333" text-anchor="end" stroke="#333" stroke-width="0.12">COPS2</text>
<rect x="442.90" y="347.39" width="36.40" height="5.30" fill="#c8092e" />
<line x1="439.40" y1="350.04" x2="442.20" y2="350.04" stroke="#262626" stroke-width="0.9" />
<text x="436.40" y="352.39" font-size="6.7" fill="#333" text-anchor="end" stroke="#333" stroke-width="0.12">SOCS3</text>
<rect x="442.90" y="355.86" width="36.00" height="5.30" fill="#c8092e" />
<line x1="439.40" y1="358.51" x2="442.20" y2="358.51" stroke="#262626" stroke-width="0.9" />
<text x="436.40" y="360.86" font-size="6.7" fill="#333" text-anchor="end" stroke="#333" stroke-width="0.12">UBE2L3</text>
<rect x="442.90" y="364.33" width="35.20" height="5.30" fill="#c8092e" />
<line x1="439.40" y1="366.98" x2="442.20" y2="366.98" stroke="#262626" stroke-width="0.9" />
<text x="436.40" y="369.33" font-size="6.7" fill="#333" text-anchor="end" stroke="#333" stroke-width="0.12">RASA2</text>
<text x="472.40" y="396.80" font-size="9.2" fill="#333" text-anchor="middle" stroke="#333" stroke-width="0.12" textLength="53.2" lengthAdjust="spacingAndGlyphs">log2 fold change</text>
<rect x="0.00" y="0.00" width="520.00" height="1.00" fill="#333" />
<rect x="0.00" y="0.00" width="1.00" height="406.00" fill="#333" />
<rect x="518.60" y="0.00" width="1.40" height="406.00" fill="#333" />
<rect x="0.00" y="404.60" width="520.00" height="1.40" fill="#333" />
</svg>
</body></html>
